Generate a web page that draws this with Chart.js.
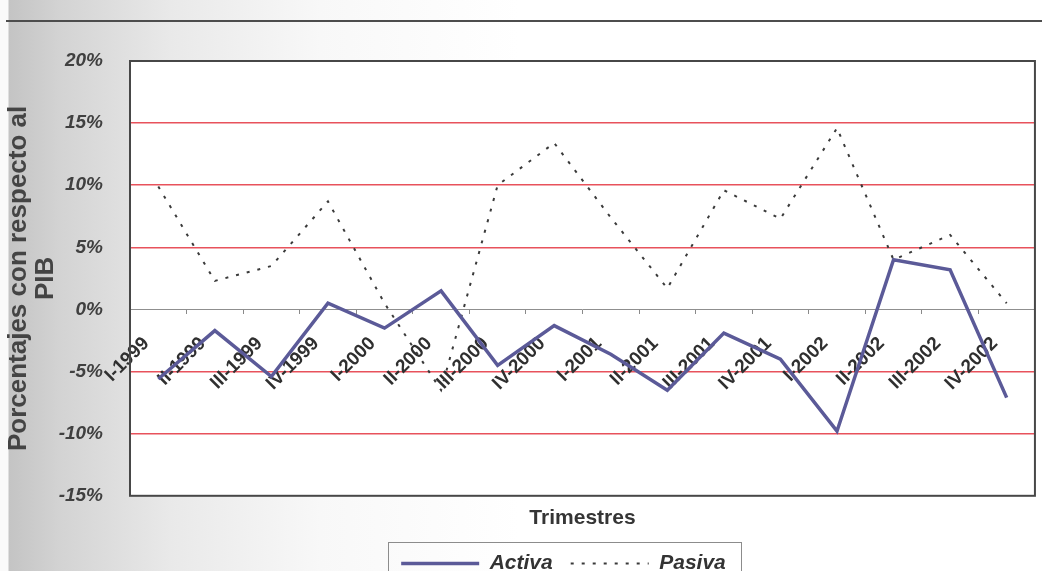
<!DOCTYPE html>
<html>
<head>
<meta charset="utf-8">
<script src="https://cdn.jsdelivr.net/npm/chart.js@4.4.1/dist/chart.umd.min.js"></script>
<style>
  html, body { margin: 0; padding: 0; width: 1042px; height: 571px; overflow: hidden; }
  body {
    position: relative;
    background: linear-gradient(to right, #fafafa 0, #fafafa 8px, #c4c4c4 9px, #d3d3d3 60px, #e9e9e9 170px, #f8f8f8 320px, #ffffff 520px);
  }
  #rule { position: absolute; left: 6px; right: 0; top: 20px; height: 2px; background: #4d4d4d; }
  #wrap { position: absolute; left: 0; top: 0; width: 1042px; height: 610px; }
</style>
</head>
<body>
<div id="rule"></div>
<div id="wrap"><canvas id="c" width="1042" height="610"></canvas></div>
<script>
// Quarterly series, percent of GDP
const trimestres = [
  'I-1999', 'II-1999', 'III-1999', 'IV-1999',
  'I-2000', 'II-2000', 'III-2000', 'IV-2000',
  'I-2001', 'II-2001', 'III-2001', 'IV-2001',
  'I-2002', 'II-2002', 'III-2002', 'IV-2002'
];
const activa = [-5.6, -1.7, -5.4, 0.5, -1.5, 1.5, -4.5, -1.3, -3.6, -6.5, -1.9, -4.0, -9.8, 4.0, 3.2, -7.1];
const pasiva = [9.9, 2.3, 3.5, 8.7, 0.5, -6.5, 10.0, 13.4, 7.4, 1.7, 9.6, 7.3, 14.6, 4.0, 6.0, 0.5];
const yTicks = [-15, -10, -5, 0, 5, 10, 15, 20];

const FONT = '"Liberation Sans", Arial, sans-serif';

// White plot background, dark plot frame and a frame around the legend
const framePlugin = {
  id: 'frame',
  afterLayout(chart) {
    // center the legend row under the plot like the original sheet
    const lg = chart.legend;
    lg.left -= 19;
    lg.right -= 19;
  },
  beforeDraw(chart) {
    const { ctx, chartArea: a } = chart;
    ctx.save();
    ctx.fillStyle = '#ffffff';
    ctx.fillRect(a.left, a.top, a.right - a.left, a.bottom - a.top);
    ctx.restore();
  },
  afterDraw(chart) {
    const { ctx, chartArea: a, legend: lg } = chart;
    ctx.save();
    ctx.strokeStyle = '#474747';
    ctx.lineWidth = 2;
    ctx.strokeRect(a.left, a.top, a.right - a.left, a.bottom - a.top);
    // legend frame
    const pad = lg.options.labels.padding;
    const w = lg.lineWidths[0] - pad;
    const cx = (lg.left + lg.right) / 2;
    ctx.strokeStyle = '#8c8c8c';
    ctx.lineWidth = 1;
    ctx.strokeRect(Math.round(cx - w / 2 - 13) + 0.5, Math.round(lg.top + 7) + 0.5, Math.round(w + 28), 60);
    ctx.restore();
  }
};

new Chart(document.getElementById('c'), {
  type: 'line',
  data: {
    labels: trimestres,
    datasets: [
      {
        label: 'Activa',
        data: activa,
        borderColor: '#5b5a98',
        backgroundColor: '#5b5a98',
        borderWidth: 3.5,
        pointRadius: 0,
        tension: 0,
        xAxisID: 'x',
        yAxisID: 'y'
      },
      {
        label: 'Pasiva',
        data: pasiva,
        borderColor: '#3a3a3a',
        backgroundColor: '#3a3a3a',
        borderWidth: 2,
        borderDash: [3, 8],
        pointRadius: 0,
        tension: 0,
        xAxisID: 'x',
        yAxisID: 'y'
      }
    ]
  },
  options: {
    responsive: false,
    animation: false,
    layout: { padding: { left: 0, right: 5, top: 61, bottom: 26 } },
    scales: {
      x: {
        type: 'category',
        position: { y: 0 },
        offset: true,
        grid: {
          offset: true,
          drawOnChartArea: false,
          drawTicks: true,
          tickLength: 4,
          color: '#8a8a8a',
          lineWidth: 1
        },
        border: { display: true, color: '#8f8f8f', width: 1 },
        ticks: {
          autoSkip: false,
          minRotation: 45,
          maxRotation: 45,
          padding: 19,
          labelOffset: -12,
          color: '#2f2f2f',
          font: { family: FONT, size: 19, weight: 'bold' }
        }
      },
      x2: {
        type: 'category',
        position: 'bottom',
        offset: true,
        grid: { display: false, drawTicks: false },
        border: { display: false },
        ticks: { display: false },
        title: {
          display: true,
          text: 'Trimestres',
          color: '#353535',
          padding: { top: 10, bottom: 4 },
          font: { family: FONT, size: 21, weight: 'bold' }
        }
      },
      y: {
        min: -15,
        max: 20,
        afterBuildTicks(scale) { scale.ticks = yTicks.map(v => ({ value: v })); },
        afterFit(scale) { scale.width = 130; },
        grid: {
          drawTicks: false,
          lineWidth: 1.6,
          color: (c) => (c.tick && (c.tick.value === 0 || c.tick.value === 20 || c.tick.value === -15))
            ? 'rgba(0,0,0,0)' : '#e8525c'
        },
        border: { display: false },
        ticks: {
          padding: 27,
          color: '#404040',
          font: { family: FONT, size: 19, weight: 'bold', style: 'italic' },
          callback: (v) => v + '%'
        },
        title: {
          display: true,
          text: ['Porcentajes con respecto al', 'PIB'],
          color: '#444444',
          padding: { top: 5, bottom: 0 },
          font: { family: FONT, size: 26, weight: 'bold', lineHeight: 1.05 }
        }
      }
    },
    plugins: {
      legend: {
        display: true,
        position: 'bottom',
        fullSize: false,
        labels: {
          usePointStyle: true,
          pointStyle: 'line',
          pointStyleWidth: 78,
          padding: 18,
          color: '#333333',
          font: { family: FONT, size: 21, weight: 'bold', style: 'italic' },
          // legend samples follow each dataset's own line style
          generateLabels(chart) {
            const items = Chart.defaults.plugins.legend.labels.generateLabels(chart);
            items.forEach((it) => {
              const ds = chart.data.datasets[it.datasetIndex];
              it.lineDash = ds.borderDash || [];
              it.lineWidth = ds.borderWidth;
              it.strokeStyle = ds.borderColor;
            });
            return items;
          }
        }
      },
      tooltip: { enabled: false }
    }
  },
  plugins: [framePlugin]
});
</script>
</body>
</html>
